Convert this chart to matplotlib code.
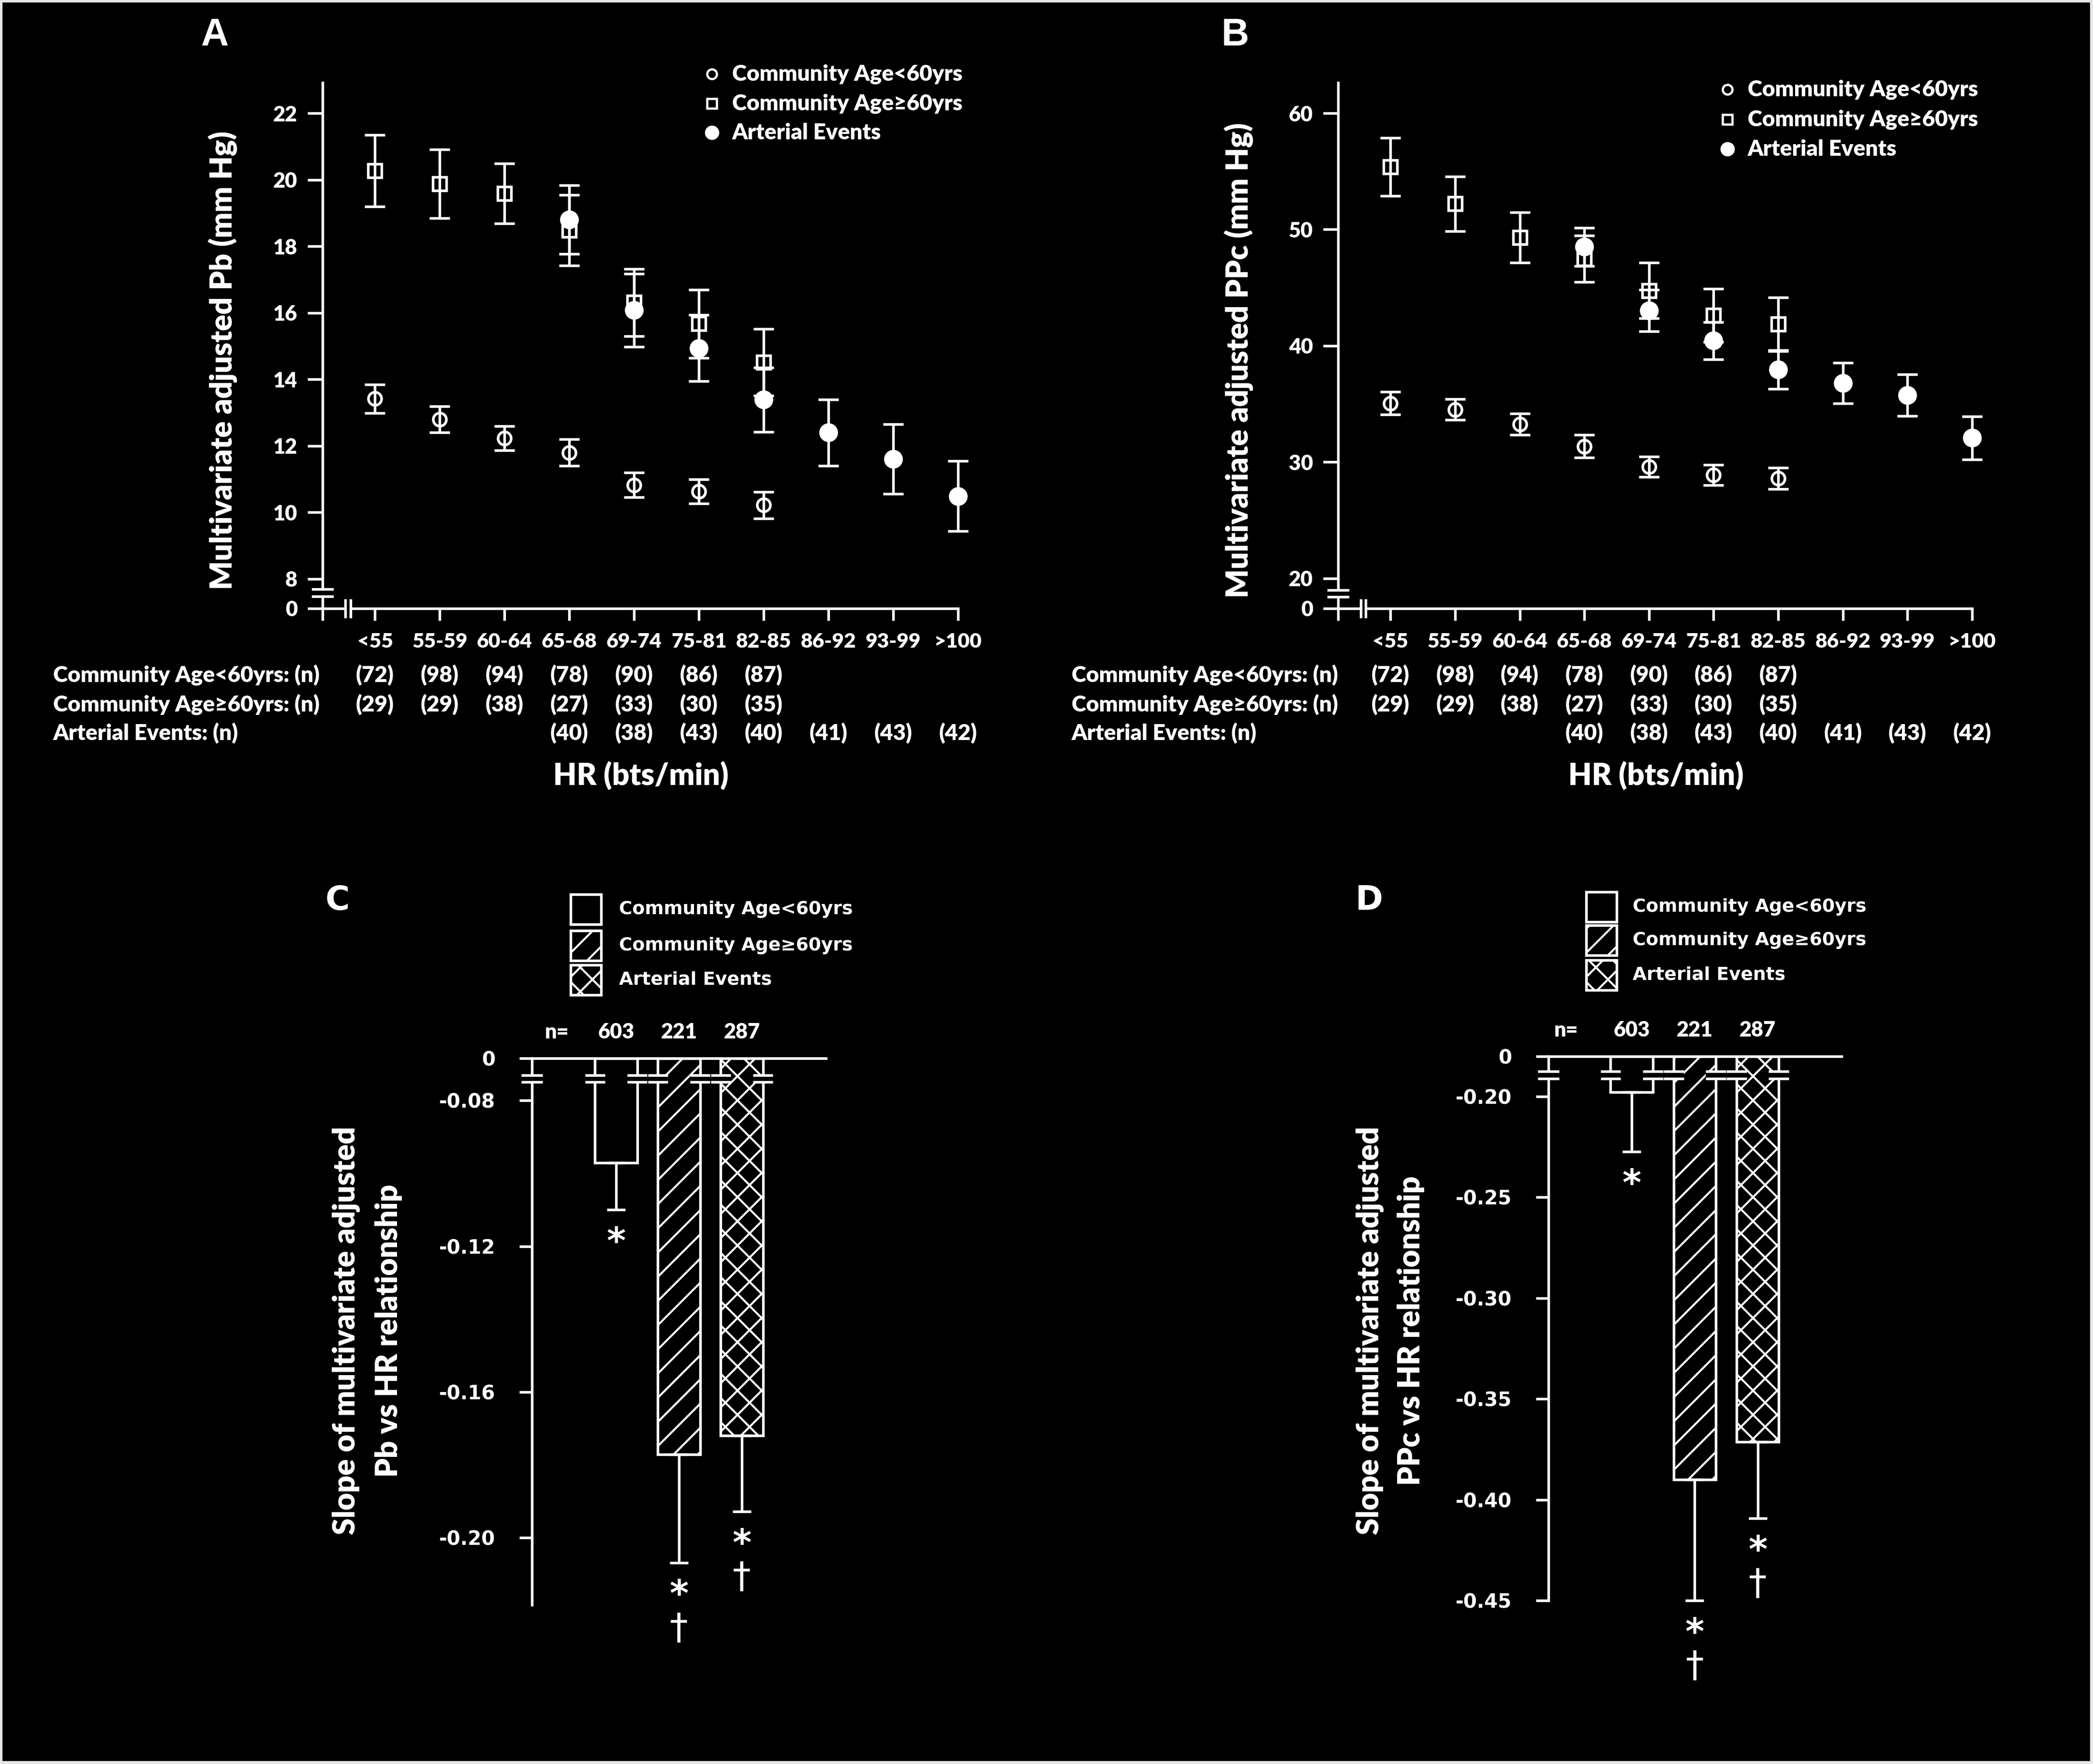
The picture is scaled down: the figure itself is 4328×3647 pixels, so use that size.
import matplotlib
matplotlib.use("Agg")
import matplotlib.pyplot as plt
import matplotlib.transforms as mtransforms
from matplotlib.patches import Rectangle
from matplotlib.lines import Line2D
import numpy as np

plt.rcParams['font.family'] = ['Lato', 'DejaVu Sans']
plt.rcParams['font.weight'] = 800
plt.rcParams['hatch.linewidth'] = 1.0
plt.rcParams['hatch.color'] = 'white'
plt.rcParams['mathtext.fontset'] = 'custom'
plt.rcParams['mathtext.rm'] = 'DejaVu Sans'
plt.rcParams['mathtext.bf'] = 'DejaVu Sans:bold'

#data
hr_bins = ['<55', '55-59', '60-64', '65-68', '69-74', '75-81', '82-85', '86-92', '93-99', '>100']
art_start = 3  # arterial events start at 65-68

n_young = [72, 98, 94, 78, 90, 86, 87]
n_old = [29, 29, 38, 27, 33, 30, 35]
n_art = [40, 38, 43, 40, 41, 43, 42]

pb_young = [13.42, 12.80, 12.23, 11.80, 10.82, 10.63, 10.22]
pb_young_err = [0.43, 0.39, 0.37, 0.40, 0.37, 0.37, 0.40]
pb_old = [20.27, 19.88, 19.59, 18.48, 16.31, 15.67, 14.51]
pb_old_err = [1.08, 1.03, 0.90, 1.06, 1.01, 1.03, 1.00]
pb_art = [18.80, 16.08, 14.94, 13.39, 12.40, 11.60, 10.49]
pb_art_err = [1.03, 1.10, 1.00, 0.97, 1.00, 1.05, 1.06]

ppc_young = [35.07, 34.52, 33.26, 31.36, 29.59, 28.91, 28.60]
ppc_young_err = [0.97, 0.90, 0.90, 0.97, 0.88, 0.88, 0.90]
ppc_old = [55.38, 52.22, 49.32, 47.47, 44.75, 42.62, 41.86]
ppc_old_err = [2.50, 2.35, 2.15, 2.00, 2.40, 2.30, 2.30]
ppc_art = [48.51, 43.03, 40.45, 37.96, 36.79, 35.75, 32.08]
ppc_art_err = [1.65, 1.80, 1.60, 1.65, 1.75, 1.80, 1.85]

groups = ['Community Age<60yrs', 'Community Age\u226560yrs', 'Arterial Events']
n_total = [603, 221, 287]
slope_pb = [-0.0971, -0.1771, -0.1720]
slope_pb_err = [0.0129, 0.0297, 0.0208]
slope_ppc = [-0.198, -0.390, -0.3713]
slope_ppc_err = [0.0295, 0.060, 0.038]
sig_star = [True, True, True]
sig_dagger = [False, True, True]

#layout helpers
W, H = 4328, 3647
WHITE = 'white'
LW = 1.3
VERD = ['DejaVu Sans']
fig = plt.figure(figsize=(W / 300, H / 300), dpi=300, facecolor='#e6e6e6')
fig.add_artist(Rectangle((5 / W, 6 / H), (W - 11) / W, (H - 11) / H, transform=fig.transFigure,
                         fc='black', ec='none', zorder=0))


def pxBox(x0, y0, x1, y1):
    return [x0 / W, 1 - y1 / H, (x1 - x0) / W, (y1 - y0) / H]


def fx(x):
    return x / W


def fy(y):
    return 1 - y / H


def noClip(container):
    for art in container.get_children():
        art.set_clip_on(False)


#scatter panels (A, B)
def scatterPanel(ax, young, young_err, old, old_err, art, art_err, zero_pos, top, yticks, brk_y):
    x = np.arange(len(hr_bins))
    x0 = -0.81
    kw = dict(ecolor=WHITE, elinewidth=LW, capsize=5, capthick=LW, mec=WHITE, mew=LW, ls='none')
    noClip(ax.errorbar(x[:len(young)], young, yerr=young_err, fmt='o', ms=6.5, mfc='none', zorder=3, **kw))
    noClip(ax.errorbar(x[:len(old)], old, yerr=old_err, fmt='s', ms=6.5, mfc='none', zorder=3, **kw))
    noClip(ax.errorbar(x[art_start:art_start + len(art)], art, yerr=art_err, fmt='o', ms=8, mfc=WHITE,
                       zorder=4, **kw))

    ax.set_facecolor('none')
    for s in ['top', 'right']:
        ax.spines[s].set_visible(False)
    for s in ['left', 'bottom']:
        ax.spines[s].set_color(WHITE)
        ax.spines[s].set_linewidth(LW)
    ax.set_yticks([zero_pos] + yticks)
    ax.set_yticklabels(['0'] + [str(t) for t in yticks], fontsize=10.4)
    ax.set_xticks([x0] + list(x))
    ax.set_xticklabels([''] + hr_bins, fontsize=10.2)
    ax.tick_params(axis='y', direction='out', length=7.5, width=LW, colors=WHITE, pad=5)
    ax.tick_params(axis='x', direction='out', length=6, width=LW, colors=WHITE, pad=6)
    ax.set_xlim(x0, x[-1])
    ax.set_ylim(zero_pos, top)

    #axis breaks
    ytr = ax.get_yaxis_transform()
    ax.add_patch(Rectangle((-0.006, brk_y[1]), 0.012, brk_y[0] - brk_y[1], transform=ytr,
                           fc='black', ec='none', clip_on=False, zorder=5))
    for yb in brk_y:
        ax.plot([-0.015, 0.015], [yb, yb], transform=ytr, color=WHITE, lw=LW, clip_on=False, zorder=6)
    xtr = ax.get_xaxis_transform()
    ax.add_patch(Rectangle((-0.46, -0.006), 0.08, 0.012, transform=xtr,
                           fc='black', ec='none', clip_on=False, zorder=5))
    for xb in [-0.46, -0.38]:
        ax.plot([xb, xb], [-0.016, 0.016], transform=xtr, color=WHITE, lw=LW, clip_on=False, zorder=6)

    #n rows
    btr = mtransforms.blended_transform_factory(ax.transData, fig.transFigure)
    rows = [(n_young, 0), (n_old, 0), (n_art, art_start)]
    for (vals, start), yy in zip(rows, [1395, 1456, 1515]):
        for i, v in enumerate(vals):
            ax.text(start + i, fy(yy), '(%d)' % v, transform=btr, ha='center', va='center',
                    color=WHITE, fontsize=11)


def scatterLabels(xrow, xmarker, ylab_x, hr_x, letter_xy, leg_rows, ylabel):
    for lab, yy in zip(['Community Age<60yrs: (n)', 'Community Age\u226560yrs: (n)', 'Arterial Events: (n)'],
                       [1395, 1456, 1515]):
        fig.text(fx(xrow), fy(yy), lab, ha='left', va='center', color=WHITE, fontsize=11)
    fig.text(fx(hr_x), fy(1604), 'HR (bts/min)', ha='center', va='center', color=WHITE, fontsize=15)
    fig.text(fx(ylab_x), fy(745), ylabel, rotation=90, ha='center', va='center', color=WHITE, fontsize=15)
    fig.text(fx(letter_xy[0]), fy(letter_xy[1]), letter_xy[2], ha='center', va='center', color=WHITE,
             fontsize=19, family=['Liberation Sans'], fontweight='bold')
    marks = [dict(marker='o', ms=4.8, mfc='none'), dict(marker='s', ms=4.8, mfc='none'),
             dict(marker='o', ms=6, mfc=WHITE)]
    for g, m, yy in zip(groups, marks, leg_rows):
        fig.add_artist(Line2D([fx(xmarker)], [fy(yy)], transform=fig.transFigure, color=WHITE,
                              mec=WHITE, mew=1.1, ls='none', **m))
        fig.text(fx(xmarker + 42), fy(yy), g, ha='left', va='center', color=WHITE, fontsize=11)


axA = fig.add_axes(pxBox(667, 171, 1981, 1258))
scatterPanel(axA, pb_young, pb_young_err, pb_old, pb_old_err, pb_art, pb_art_err,
             7.11, 22.92, [8, 10, 12, 14, 16, 18, 20, 22], (7.685, 7.48))
scatterLabels(110, 1472, 461, 1325, (444, 74, 'A'), [153, 214, 274], 'Multivariate adjusted Pb (mm Hg)')

axB = fig.add_axes(pxBox(2767, 171, 4078, 1258))
scatterPanel(axB, ppc_young, ppc_young_err, ppc_old, ppc_old_err, ppc_art, ppc_art_err,
             17.42, 62.62, [20, 30, 40, 50, 60], (19.0, 18.42))
scatterLabels(2216, 3572, 2562, 3424, (2554, 74, 'B'), [185, 247, 308], 'Multivariate adjusted PPc (mm Hg)')

#bar panels (C, D)
bar_w = 0.67
bar_hatch = ['', '//', 'xx']


def barPanel(ax, slopes, errs, zero_pos, ybot, yticks, ylabels, brk_y, n_x, x_left, x_right):
    x = np.arange(1, len(slopes) + 1)
    bars = ax.bar(x, np.array(slopes) - zero_pos, bottom=zero_pos, width=bar_w, color='black',
                  edgecolor=WHITE, linewidth=LW, zorder=2)
    for b, h in zip(bars, bar_hatch):
        b.set_hatch(h)
    noClip(ax.errorbar(x, slopes, yerr=[errs, np.zeros(len(errs))], fmt='none', ecolor=WHITE, elinewidth=LW,
                       capsize=4.5, capthick=LW, zorder=3))

    ax.set_facecolor('none')
    for s in ['bottom', 'right']:
        ax.spines[s].set_visible(False)
    for s in ['left', 'top']:
        ax.spines[s].set_color(WHITE)
        ax.spines[s].set_linewidth(LW)
    ax.set_xticks([])
    ax.set_yticks([zero_pos] + yticks)
    ax.set_yticklabels(['0'] + ylabels, fontsize=9.7, family=VERD, fontweight='bold')
    ax.tick_params(axis='y', direction='out', length=6.2, width=LW, colors=WHITE, pad=12)
    ax.set_xlim(x_left, x_right)
    ax.set_ylim(ybot, zero_pos)

    #breaks on the spine and on each bar edge
    spans = [(x_left - 0.17, x_left + 0.17)]
    for xi in x:
        spans.append((xi - bar_w / 2 - 0.16, xi - bar_w / 2 + 0.16))
        spans.append((xi + bar_w / 2 - 0.16, xi + bar_w / 2 + 0.16))
    for a, b in spans:
        ax.add_patch(Rectangle((a, brk_y[1]), b - a, brk_y[0] - brk_y[1], fc='black', ec='none',
                               clip_on=False, zorder=5))
        for yb in brk_y:
            ax.plot([a, b], [yb, yb], color=WHITE, lw=LW, clip_on=False, zorder=6, solid_capstyle='butt')

    #significance marks (bold star, thin dagger below it)
    for xi, v, e, st, dg in zip(x, slopes, errs, sig_star, sig_dagger):
        marks = []
        if st:
            marks.append('$\\mathbf{*}$')
        if dg:
            marks.append('\u2020')
        if marks:
            ax.annotate('\n'.join(marks), xy=(xi, v - e), xytext=(0, -7.4), textcoords='offset points',
                        ha='center', va='top', color=WHITE, fontsize=18, family=VERD, fontweight='normal',
                        linespacing=0.95, annotation_clip=False)

    #sample sizes
    ax.annotate('n=', xy=(n_x, zero_pos), xytext=(0, 13), textcoords='offset points', ha='center',
                va='center', color=WHITE, fontsize=10.4, annotation_clip=False)
    for xi, n in zip(x, n_total):
        ax.annotate(str(n), xy=(xi, zero_pos), xytext=(0, 13), textcoords='offset points', ha='center',
                    va='center', color=WHITE, fontsize=10.4, annotation_clip=False)


def barLabels(box_x, text_x, rows, lab_x, letter_xy, ylabel2):
    for g, h, yy in zip(groups, bar_hatch, rows):
        fig.add_artist(Rectangle((fx(box_x), fy(yy + 31)), 63 / W, 62 / H, transform=fig.transFigure,
                                 fc='black', ec=WHITE, lw=LW, hatch=h))
        fig.text(fx(text_x), fy(yy), g, ha='left', va='center', color=WHITE, fontsize=9, family=VERD,
                 fontweight='bold')
    fig.text(fx(lab_x[0]), fy(2751), 'Slope of multivariate adjusted', rotation=90, ha='center', va='center',
             color=WHITE, fontsize=15)
    fig.text(fx(lab_x[1]), fy(2751), ylabel2, rotation=90, ha='center', va='center',
             color=WHITE, fontsize=15)
    fig.text(fx(letter_xy[0]), fy(letter_xy[1]), letter_xy[2], ha='center', va='center', color=WHITE,
             fontsize=16.5, family=VERD, fontweight='bold')


axC = fig.add_axes(pxBox(1100, 2188, 1708, 3318))
barPanel(axC, slope_pb, slope_pb_err, -0.0684, -0.2184, [-0.08, -0.12, -0.16, -0.20],
         ['-0.08', '-0.12', '-0.16', '-0.20'], (-0.0731, -0.0749), 0.057, -0.338, 4.338)
barLabels(1180, 1280, [1880, 1955, 2026], (716, 803), (698, 1862, 'C'), 'Pb vs HR relationship')

axD = fig.add_axes(pxBox(3202, 2184, 3808, 3309))
barPanel(axD, slope_ppc, slope_ppc_err, -0.1802, -0.45, [-0.20, -0.25, -0.30, -0.35, -0.40, -0.45],
         ['-0.20', '-0.25', '-0.30', '-0.35', '-0.40', '-0.45'], (-0.1876, -0.1912), -0.04, -0.32, 4.33)
barLabels(3280, 3376, [1875, 1944, 2016], (2833, 2917), (2831, 1862, 'D'), 'PPc vs HR relationship')

fig.savefig('out.png', dpi=300, facecolor=fig.get_facecolor())
